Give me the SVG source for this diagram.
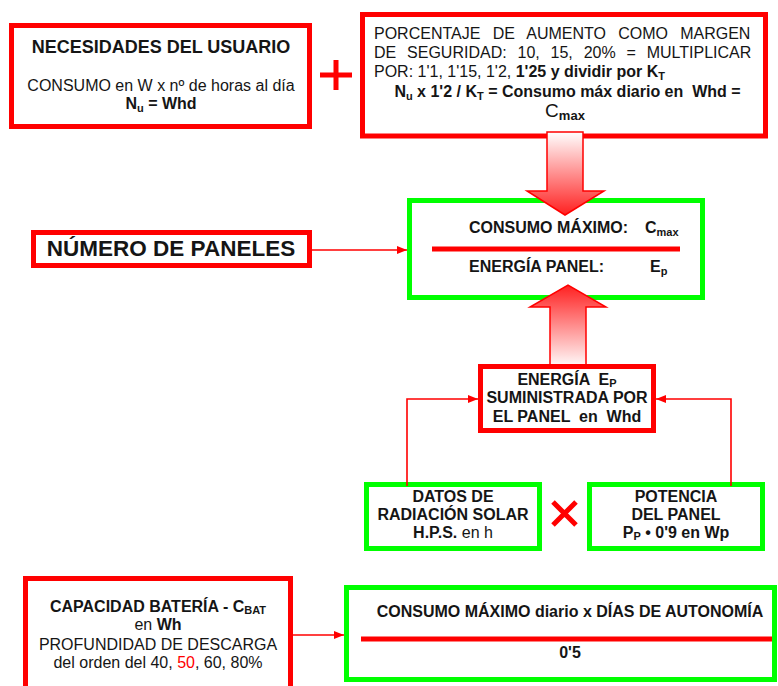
<svg xmlns="http://www.w3.org/2000/svg" width="778" height="686" viewBox="0 0 778 686">
<style>
text{font-family:"Liberation Sans",Arial,sans-serif;font-size:16px;fill:#151515}
.b{font-weight:bold}
.rb{fill:#fff;stroke:#ff0000;stroke-width:5}
.gb{fill:#fff;stroke:#00ff00;stroke-width:5}
.c{stroke:#ff0000;stroke-width:1.6;fill:none}
.sub{font-size:11px}
.m{text-anchor:middle}
</style>
<defs>
<marker id="ah" markerWidth="10" markerHeight="8" refX="10" refY="4" orient="auto" markerUnits="userSpaceOnUse">
<path d="M0,0 L10,4 L0,8 Z" fill="#ff0000"/>
</marker>
<linearGradient id="gDown" x1="0" y1="0" x2="0" y2="1">
<stop offset="0" stop-color="#ffffff"/>
<stop offset="1" stop-color="#ff2020"/>
</linearGradient>
<linearGradient id="gUp" x1="0" y1="0" x2="0" y2="1">
<stop offset="0" stop-color="#ff2020"/>
<stop offset="1" stop-color="#ffffff"/>
</linearGradient>
</defs>

<g id="necesidades">
<rect class="rb" x="11.5" y="25.5" width="298" height="101"/>
<text class="b m" x="161" y="53" style="font-size:18px">NECESIDADES DEL USUARIO</text>
<text class="m" x="161" y="91">CONSUMO en W x nº de horas al día</text>
<text class="b m" x="161" y="109">N<tspan class="sub" dy="3">u</tspan><tspan dy="-3"> = Whd</tspan></text>
</g>

<g id="plus">
<path d="M320,75 H352 M336,60 V90" stroke="#ff0000" stroke-width="5" fill="none"/>
</g>

<g id="porcentaje">
<rect class="rb" x="362.5" y="14.5" width="403" height="121.5"/>
<text x="374" y="39" word-spacing="7.8">PORCENTAJE DE AUMENTO COMO MARGEN</text>
<text x="374" y="58" word-spacing="6.4">DE SEGURIDAD: 10, 15, 20% = MULTIPLICAR</text>
<text x="374" y="77">POR: 1'1, 1'15, 1'2, <tspan class="b">1'25 y dividir por K</tspan><tspan class="b sub" dy="3">T</tspan></text>
<text class="b m" x="567.5" y="97" xml:space="preserve">N<tspan class="sub" dy="3">u</tspan><tspan dy="-3"> x 1'2 / K</tspan><tspan class="sub" dy="3">T</tspan><tspan dy="-3"> = Consumo máx diario en  Whd =</tspan></text>
<text class="m" x="565" y="117" style="font-size:19px">C<tspan class="b sub" style="font-size:13px" dy="3">max</tspan></text>
</g>

<g id="numero-paneles">
<rect class="rb" x="33.5" y="232.5" width="276" height="33"/>
<text class="b m" x="171" y="256" style="font-size:22.5px">NÚMERO DE PANELES</text>
</g>

<g id="consumo-energia">
<rect class="gb" x="409.5" y="200.5" width="293" height="97"/>
<text class="b" x="469" y="233">CONSUMO MÁXIMO:</text>
<text class="b" x="645" y="233">C<tspan class="sub" dy="3">max</tspan></text>
<line x1="432" y1="249" x2="680" y2="249" stroke="#ff0000" stroke-width="5"/>
<text class="b" x="469" y="272">ENERGÍA PANEL:</text>
<text class="b" x="650" y="272">E<tspan class="sub" dy="3">p</tspan></text>
</g>

<g id="energia-panel">
<path d="M550,368 V307 H530 L568,285 L606,307 H586 V368 Z" fill="url(#gUp)" stroke="#ff0000" stroke-width="1.5"/>
<rect class="rb" x="480.5" y="366.5" width="173" height="64"/>
<text class="b m" x="567" y="385" xml:space="preserve">ENERGÍA  E<tspan class="sub" dy="2">P</tspan></text>
<text class="b m" x="567" y="403">SUMINISTRADA POR</text>
<text class="b m" x="567" y="422" xml:space="preserve">EL PANEL  en  Whd</text>
</g>

<g id="datos-radiacion">
<rect class="gb" x="366.5" y="484.5" width="173" height="64"/>
<text class="b m" x="453" y="502">DATOS DE</text>
<text class="b m" x="453" y="520">RADIACIÓN SOLAR</text>
<text class="m" x="453" y="538"><tspan class="b">H.P.S.</tspan> en h</text>
</g>

<g id="por">
<path d="M553,502 L576,525 M576,502 L553,525" stroke="#ff0000" stroke-width="5" fill="none"/>
</g>

<g id="potencia">
<rect class="gb" x="589.5" y="484.5" width="173" height="64"/>
<text class="b m" x="676" y="502">POTENCIA</text>
<text class="b m" x="676" y="520">DEL PANEL</text>
<text class="b m" x="676" y="538">P<tspan class="sub" dy="2">P</tspan><tspan dy="-2"> • 0'9 en Wp</tspan></text>
</g>

<g id="capacidad">
<rect class="rb" x="25.5" y="578.5" width="265" height="120"/>
<text class="b m" x="158" y="612">CAPACIDAD BATERÍA - C<tspan class="sub" dy="2">BAT</tspan></text>
<text class="m" x="158" y="630">en <tspan class="b">Wh</tspan></text>
<text class="m" x="158" y="650">PROFUNDIDAD DE DESCARGA</text>
<text class="m" x="158" y="668">del orden del 40, <tspan style="fill:#ff0000">50</tspan>, 60, 80%</text>
</g>

<g id="consumo-autonomia">
<rect class="gb" x="346.5" y="587.5" width="428" height="92"/>
<text class="b m" x="570" y="617">CONSUMO MÁXIMO diario x DÍAS DE AUTONOMÍA</text>
<line x1="361" y1="639" x2="772" y2="639" stroke="#ff0000" stroke-width="5"/>
<text class="b m" x="570" y="658">0'5</text>
</g>

<g id="big-down-arrow">
<path d="M547,132 V191 H527 L565,215 L604,191 H583 V132 Z" fill="url(#gDown)" stroke="#ff0000" stroke-width="1.5"/>
</g>

<g id="connectors">
<line class="c" x1="312" y1="250" x2="407" y2="250" marker-end="url(#ah)"/>
<path class="c" d="M407,486 V399 H478" marker-end="url(#ah)"/>
<path class="c" d="M731,486 V399 H656" marker-end="url(#ah)"/>
<line class="c" x1="293" y1="635" x2="344" y2="635" marker-end="url(#ah)"/>
</g>
</svg>
